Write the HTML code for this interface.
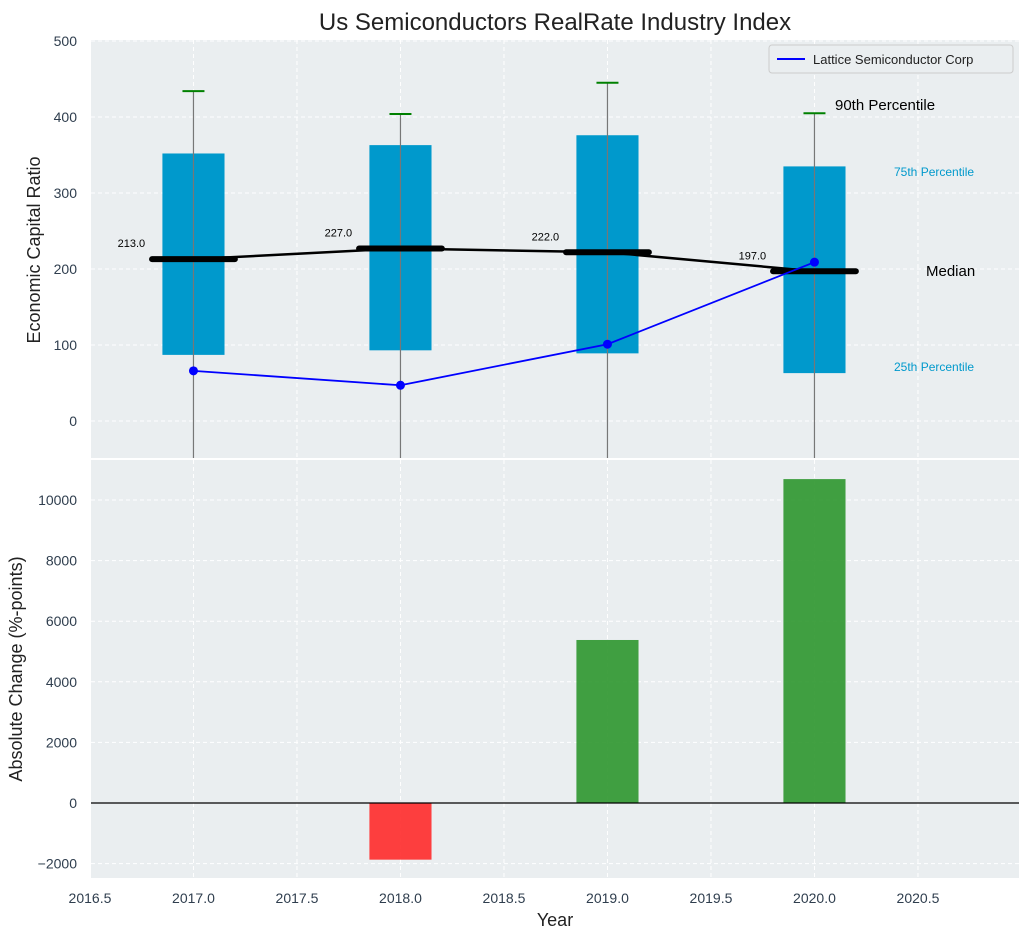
<!DOCTYPE html>
<html><head><meta charset="utf-8"><style>
body{margin:0;background:#fff;font-family:"Liberation Sans",sans-serif}
svg text{font-family:"Liberation Sans",sans-serif}
</style></head><body>
<svg id="c" width="1029" height="940" xmlns="http://www.w3.org/2000/svg"></svg>
<script>
const years=[2017,2018,2019,2020];
const q1=[87,93,89,63];
const q3=[352,363,376,335];
const medians=[213,227,222,197];
const p90=[434,404,445,405];
const lattice=[66,47,101,209];
const changes=[0,-1870,5380,10690];
const xTicks=[2016.5,2017.0,2017.5,2018.0,2018.5,2019.0,2019.5,2020.0,2020.5];
const yTopTicks=[0,100,200,300,400,500];
const yBotTicks=[-2000,0,2000,4000,6000,8000,10000];

const svg=document.getElementById('c');
const NS='http://www.w3.org/2000/svg';
function mk(t,a,p){const e=document.createElementNS(NS,t);for(const k in a)e.setAttribute(k,a[k]);(p||svg).appendChild(e);return e;}
const L=91,R=1019;
const x=v=>L+(v-2016.505)*207;
const T0=40,T1=458,B0=460,B1=878;
const yT=v=>421-v*0.76;
const yB=v=>803-v*0.0303;

let t=mk('text',{x:555,y:30,'text-anchor':'middle','font-size':24,fill:'#222'});t.textContent='Us Semiconductors RealRate Industry Index';



[[T0,T1,yTopTicks,yT,'top'],[B0,B1,yBotTicks,yB,'bottom']].forEach(([a,b,ticks,f,nm])=>{
  const r=mk('rect',{x:L,y:a,width:R-L,height:b-a,fill:'#eaeef0'});
  
  
  xTicks.forEach(v=>{const l=mk('line',{x1:x(v),x2:x(v),y1:a,y2:b,stroke:'#fff','stroke-dasharray':'4,3','stroke-width':1});
    
    });
  ticks.forEach(v=>{const yy=f(v);const l=mk('line',{x1:L,x2:R,y1:yy,y2:yy,stroke:'#fff','stroke-dasharray':'4,3','stroke-width':1});
    
    
    const tx=mk('text',{x:L-14,y:yy+5,'text-anchor':'end','font-size':14,fill:'#2f3e4e'});tx.textContent=String(v).replace('-','\u2212');
    
    });
});
xTicks.forEach(v=>{const tx=mk('text',{x:x(v),y:903,'text-anchor':'middle','font-size':14,fill:'#2f3e4e'});tx.textContent=v.toFixed(1);
  
  });

t=mk('text',{x:555,y:926,'text-anchor':'middle','font-size':18,fill:'#222'});t.textContent='Year';


t=mk('text',{x:40,y:250,'text-anchor':'middle','font-size':18,fill:'#222',transform:'rotate(-90 40 250)'});t.textContent='Economic Capital Ratio';


t=mk('text',{x:22,y:669,'text-anchor':'middle','font-size':18,fill:'#222',transform:'rotate(-90 22 669)'});t.textContent='Absolute Change (%-points)';



years.forEach((yr,i)=>{
  const cx=x(yr),w=0.3*207;
  const b=mk('rect',{x:cx-w/2,y:yT(q3[i]),width:w,height:yT(q1[i])-yT(q3[i]),fill:'#0099cc'});
  
  
  const wl=mk('line',{x1:cx,x2:cx,y1:yT(p90[i]),y2:T1,stroke:'#777','stroke-width':1.2});
  
  
  const cap=mk('line',{x1:cx-11,x2:cx+11,y1:yT(p90[i]),y2:yT(p90[i]),stroke:'green','stroke-width':2});
  
  
});
const ml=mk('polyline',{points:years.map((yr,i)=>x(yr)+','+yT(medians[i])).join(' '),fill:'none',stroke:'#000','stroke-width':2.5});


years.forEach((yr,i)=>{
  const cx=x(yr),yy=yT(medians[i]);
  const s=mk('line',{x1:cx-0.2*207,x2:cx+0.2*207,y1:yy,y2:yy,stroke:'#000','stroke-width':6,'stroke-linecap':'round'});
  
  
  const tx=mk('text',{x:cx-0.3*207,y:yy-12,'text-anchor':'middle','font-size':11,fill:'#000'});tx.textContent=medians[i].toFixed(1);
  
  
});
const ll=mk('polyline',{points:years.map((yr,i)=>x(yr)+','+yT(lattice[i])).join(' '),fill:'none',stroke:'#0000ff','stroke-width':1.8});


years.forEach((yr,i)=>{const c=mk('circle',{cx:x(yr),cy:yT(lattice[i]),r:4.5,fill:'#0000ff'});
  
  });

[['90th Percentile',835,110,15,'#000'],['75th Percentile',894,176,12,'#0099cc'],['Median',926,276,15,'#000'],['25th Percentile',894,371,12,'#0099cc']].forEach(([s,xx,yy,fs,c])=>{
  const tx=mk('text',{x:xx,y:yy,'font-size':fs,fill:c});tx.textContent=s;
  
  
});

const lg=mk('g',{});


mk('rect',{x:769,y:45,width:244,height:28,rx:3,fill:'#eaeef0',stroke:'#ccc'},lg);
mk('line',{x1:777,x2:805,y1:59,y2:59,stroke:'#0000ff','stroke-width':2},lg);
t=mk('text',{x:813,y:64,'font-size':13,fill:'#222'},lg);t.textContent='Lattice Semiconductor Corp';

years.forEach((yr,i)=>{
  const v=changes[i];if(v===0)return;
  const w=0.3*207,y0=yB(0),y1=yB(v);
  const b=mk('rect',{x:x(yr)-w/2,y:Math.min(y0,y1),width:w,height:Math.abs(y1-y0),fill:v>=0?'#2e962e':'#ff2a2a','fill-opacity':0.9});
  
  
});
const zl=mk('line',{x1:L,x2:R,y1:yB(0),y2:yB(0),stroke:'#000','stroke-width':1.2});


</script>
</body></html>
